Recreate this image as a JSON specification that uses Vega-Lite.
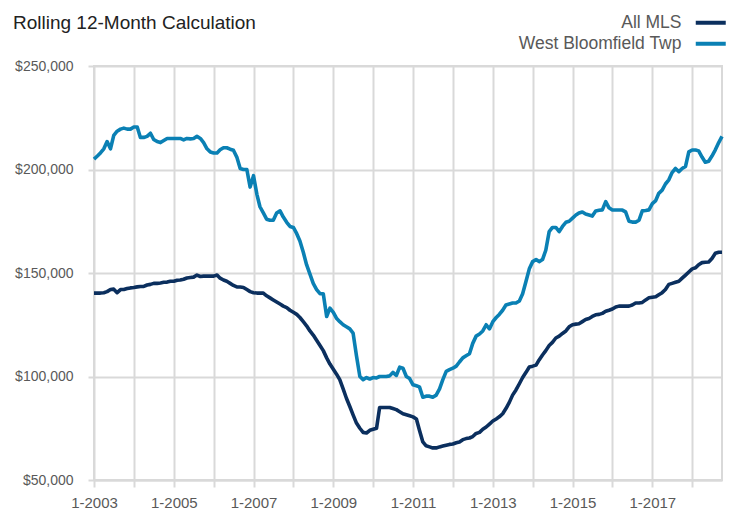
{
 "$schema": "https://vega.github.io/schema/vega-lite/v6.json",
 "width": 628, "height": 414,
 "autosize": "none",
 "padding": {"left": 94, "top": 66, "right": 7, "bottom": 35},
 "background": "white",
 "config": {"font": "Liberation Sans", "view": {"stroke": "#d9d9d9", "strokeWidth": 2}},
 "title": {"text": "Rolling 12-Month Calculation", "anchor": "start", "frame": "group", "dx": -81, "offset": 0, "dy": 19, "fontSize": 19, "fontWeight": "normal", "color": "#222222", "font": "Liberation Sans"},
 "data": {"values": [
{"month":"2003-01-01","All MLS":140300,"West Bloomfield Twp":205000},
{"month":"2003-02-01","All MLS":140300,"West Bloomfield Twp":206500},
{"month":"2003-03-01","All MLS":140300,"West Bloomfield Twp":208000},
{"month":"2003-04-01","All MLS":140500,"West Bloomfield Twp":210000},
{"month":"2003-05-01","All MLS":141000,"West Bloomfield Twp":213500},
{"month":"2003-06-01","All MLS":142000,"West Bloomfield Twp":210000},
{"month":"2003-07-01","All MLS":142200,"West Bloomfield Twp":216500},
{"month":"2003-08-01","All MLS":140500,"West Bloomfield Twp":218500},
{"month":"2003-09-01","All MLS":142000,"West Bloomfield Twp":219500},
{"month":"2003-10-01","All MLS":142000,"West Bloomfield Twp":220000},
{"month":"2003-11-01","All MLS":142500,"West Bloomfield Twp":219500},
{"month":"2003-12-01","All MLS":142800,"West Bloomfield Twp":219500},
{"month":"2004-01-01","All MLS":143000,"West Bloomfield Twp":220500},
{"month":"2004-02-01","All MLS":143300,"West Bloomfield Twp":220500},
{"month":"2004-03-01","All MLS":143500,"West Bloomfield Twp":215500},
{"month":"2004-04-01","All MLS":143500,"West Bloomfield Twp":215500},
{"month":"2004-05-01","All MLS":144200,"West Bloomfield Twp":216000},
{"month":"2004-06-01","All MLS":144500,"West Bloomfield Twp":217500},
{"month":"2004-07-01","All MLS":145000,"West Bloomfield Twp":214500},
{"month":"2004-08-01","All MLS":145000,"West Bloomfield Twp":213500},
{"month":"2004-09-01","All MLS":145200,"West Bloomfield Twp":213000},
{"month":"2004-10-01","All MLS":145500,"West Bloomfield Twp":214000},
{"month":"2004-11-01","All MLS":145600,"West Bloomfield Twp":215000},
{"month":"2004-12-01","All MLS":146000,"West Bloomfield Twp":215000},
{"month":"2005-01-01","All MLS":146000,"West Bloomfield Twp":215000},
{"month":"2005-02-01","All MLS":146500,"West Bloomfield Twp":215000},
{"month":"2005-03-01","All MLS":146600,"West Bloomfield Twp":215000},
{"month":"2005-04-01","All MLS":147000,"West Bloomfield Twp":214300},
{"month":"2005-05-01","All MLS":147600,"West Bloomfield Twp":215000},
{"month":"2005-06-01","All MLS":147800,"West Bloomfield Twp":214800},
{"month":"2005-07-01","All MLS":148000,"West Bloomfield Twp":215000},
{"month":"2005-08-01","All MLS":149000,"West Bloomfield Twp":216000},
{"month":"2005-09-01","All MLS":148300,"West Bloomfield Twp":215000},
{"month":"2005-10-01","All MLS":148500,"West Bloomfield Twp":213000},
{"month":"2005-11-01","All MLS":148500,"West Bloomfield Twp":210000},
{"month":"2005-12-01","All MLS":148500,"West Bloomfield Twp":208500},
{"month":"2006-01-01","All MLS":148500,"West Bloomfield Twp":208000},
{"month":"2006-02-01","All MLS":149000,"West Bloomfield Twp":208000},
{"month":"2006-03-01","All MLS":147500,"West Bloomfield Twp":209500},
{"month":"2006-04-01","All MLS":146600,"West Bloomfield Twp":210500},
{"month":"2006-05-01","All MLS":146000,"West Bloomfield Twp":210500},
{"month":"2006-06-01","All MLS":145000,"West Bloomfield Twp":209800},
{"month":"2006-07-01","All MLS":144000,"West Bloomfield Twp":209300},
{"month":"2006-08-01","All MLS":143300,"West Bloomfield Twp":206000},
{"month":"2006-09-01","All MLS":143200,"West Bloomfield Twp":200500},
{"month":"2006-10-01","All MLS":143000,"West Bloomfield Twp":200000},
{"month":"2006-11-01","All MLS":142000,"West Bloomfield Twp":200000},
{"month":"2006-12-01","All MLS":141000,"West Bloomfield Twp":191500},
{"month":"2007-01-01","All MLS":140500,"West Bloomfield Twp":197000},
{"month":"2007-02-01","All MLS":140300,"West Bloomfield Twp":188000},
{"month":"2007-03-01","All MLS":140300,"West Bloomfield Twp":182000},
{"month":"2007-04-01","All MLS":140300,"West Bloomfield Twp":179000},
{"month":"2007-05-01","All MLS":139000,"West Bloomfield Twp":176000},
{"month":"2007-06-01","All MLS":138000,"West Bloomfield Twp":175500},
{"month":"2007-07-01","All MLS":137000,"West Bloomfield Twp":175500},
{"month":"2007-08-01","All MLS":136000,"West Bloomfield Twp":179000},
{"month":"2007-09-01","All MLS":135000,"West Bloomfield Twp":180000},
{"month":"2007-10-01","All MLS":134000,"West Bloomfield Twp":177000},
{"month":"2007-11-01","All MLS":133300,"West Bloomfield Twp":174500},
{"month":"2007-12-01","All MLS":132000,"West Bloomfield Twp":172500},
{"month":"2008-01-01","All MLS":131000,"West Bloomfield Twp":172000},
{"month":"2008-02-01","All MLS":130000,"West Bloomfield Twp":169000},
{"month":"2008-03-01","All MLS":128500,"West Bloomfield Twp":165500},
{"month":"2008-04-01","All MLS":126500,"West Bloomfield Twp":160000},
{"month":"2008-05-01","All MLS":124500,"West Bloomfield Twp":154000},
{"month":"2008-06-01","All MLS":122000,"West Bloomfield Twp":149500},
{"month":"2008-07-01","All MLS":120000,"West Bloomfield Twp":145000},
{"month":"2008-08-01","All MLS":117500,"West Bloomfield Twp":142000},
{"month":"2008-09-01","All MLS":115000,"West Bloomfield Twp":140000},
{"month":"2008-10-01","All MLS":112500,"West Bloomfield Twp":140000},
{"month":"2008-11-01","All MLS":109000,"West Bloomfield Twp":129000},
{"month":"2008-12-01","All MLS":106000,"West Bloomfield Twp":133000},
{"month":"2009-01-01","All MLS":103500,"West Bloomfield Twp":131000},
{"month":"2009-02-01","All MLS":101000,"West Bloomfield Twp":128000},
{"month":"2009-03-01","All MLS":98500,"West Bloomfield Twp":126500},
{"month":"2009-04-01","All MLS":94000,"West Bloomfield Twp":125000},
{"month":"2009-05-01","All MLS":89500,"West Bloomfield Twp":124000},
{"month":"2009-06-01","All MLS":85500,"West Bloomfield Twp":123000},
{"month":"2009-07-01","All MLS":81500,"West Bloomfield Twp":121000},
{"month":"2009-08-01","All MLS":77500,"West Bloomfield Twp":110000},
{"month":"2009-09-01","All MLS":75000,"West Bloomfield Twp":100000},
{"month":"2009-10-01","All MLS":73000,"West Bloomfield Twp":98500},
{"month":"2009-11-01","All MLS":72700,"West Bloomfield Twp":99500},
{"month":"2009-12-01","All MLS":74000,"West Bloomfield Twp":98800},
{"month":"2010-01-01","All MLS":74500,"West Bloomfield Twp":99500},
{"month":"2010-02-01","All MLS":75000,"West Bloomfield Twp":99300},
{"month":"2010-03-01","All MLS":85000,"West Bloomfield Twp":100000},
{"month":"2010-04-01","All MLS":85000,"West Bloomfield Twp":100000},
{"month":"2010-05-01","All MLS":85000,"West Bloomfield Twp":100000},
{"month":"2010-06-01","All MLS":85000,"West Bloomfield Twp":100300},
{"month":"2010-07-01","All MLS":84500,"West Bloomfield Twp":102000},
{"month":"2010-08-01","All MLS":84000,"West Bloomfield Twp":100500},
{"month":"2010-09-01","All MLS":83000,"West Bloomfield Twp":104500},
{"month":"2010-10-01","All MLS":82000,"West Bloomfield Twp":104000},
{"month":"2010-11-01","All MLS":81500,"West Bloomfield Twp":100000},
{"month":"2010-12-01","All MLS":81000,"West Bloomfield Twp":99000},
{"month":"2011-01-01","All MLS":80500,"West Bloomfield Twp":96000},
{"month":"2011-02-01","All MLS":79500,"West Bloomfield Twp":95500},
{"month":"2011-03-01","All MLS":74000,"West Bloomfield Twp":95000},
{"month":"2011-04-01","All MLS":68400,"West Bloomfield Twp":90000},
{"month":"2011-05-01","All MLS":66500,"West Bloomfield Twp":90500},
{"month":"2011-06-01","All MLS":66000,"West Bloomfield Twp":90500},
{"month":"2011-07-01","All MLS":65500,"West Bloomfield Twp":90000},
{"month":"2011-08-01","All MLS":65500,"West Bloomfield Twp":91000},
{"month":"2011-09-01","All MLS":66000,"West Bloomfield Twp":94000},
{"month":"2011-10-01","All MLS":66400,"West Bloomfield Twp":98500},
{"month":"2011-11-01","All MLS":66800,"West Bloomfield Twp":102500},
{"month":"2011-12-01","All MLS":67200,"West Bloomfield Twp":103300},
{"month":"2012-01-01","All MLS":67400,"West Bloomfield Twp":104000},
{"month":"2012-02-01","All MLS":68000,"West Bloomfield Twp":105000},
{"month":"2012-03-01","All MLS":68400,"West Bloomfield Twp":107000},
{"month":"2012-04-01","All MLS":69500,"West Bloomfield Twp":109000},
{"month":"2012-05-01","All MLS":70000,"West Bloomfield Twp":110000},
{"month":"2012-06-01","All MLS":70300,"West Bloomfield Twp":111000},
{"month":"2012-07-01","All MLS":71000,"West Bloomfield Twp":116000},
{"month":"2012-08-01","All MLS":72500,"West Bloomfield Twp":119500},
{"month":"2012-09-01","All MLS":73000,"West Bloomfield Twp":120500},
{"month":"2012-10-01","All MLS":74500,"West Bloomfield Twp":122000},
{"month":"2012-11-01","All MLS":75600,"West Bloomfield Twp":125000},
{"month":"2012-12-01","All MLS":77000,"West Bloomfield Twp":123000},
{"month":"2013-01-01","All MLS":78500,"West Bloomfield Twp":126500},
{"month":"2013-02-01","All MLS":79500,"West Bloomfield Twp":128500},
{"month":"2013-03-01","All MLS":80500,"West Bloomfield Twp":130000},
{"month":"2013-04-01","All MLS":82000,"West Bloomfield Twp":132000},
{"month":"2013-05-01","All MLS":84500,"West Bloomfield Twp":134500},
{"month":"2013-06-01","All MLS":87500,"West Bloomfield Twp":135000},
{"month":"2013-07-01","All MLS":91000,"West Bloomfield Twp":135500},
{"month":"2013-08-01","All MLS":93500,"West Bloomfield Twp":135500},
{"month":"2013-09-01","All MLS":96500,"West Bloomfield Twp":136500},
{"month":"2013-10-01","All MLS":99500,"West Bloomfield Twp":140000},
{"month":"2013-11-01","All MLS":102000,"West Bloomfield Twp":146000},
{"month":"2013-12-01","All MLS":104600,"West Bloomfield Twp":152000},
{"month":"2014-01-01","All MLS":105000,"West Bloomfield Twp":155500},
{"month":"2014-02-01","All MLS":105500,"West Bloomfield Twp":156500},
{"month":"2014-03-01","All MLS":108000,"West Bloomfield Twp":155500},
{"month":"2014-04-01","All MLS":110400,"West Bloomfield Twp":156500},
{"month":"2014-05-01","All MLS":112500,"West Bloomfield Twp":161000},
{"month":"2014-06-01","All MLS":115000,"West Bloomfield Twp":170000},
{"month":"2014-07-01","All MLS":116500,"West Bloomfield Twp":172000},
{"month":"2014-08-01","All MLS":118600,"West Bloomfield Twp":172000},
{"month":"2014-09-01","All MLS":119500,"West Bloomfield Twp":170000},
{"month":"2014-10-01","All MLS":120800,"West Bloomfield Twp":172500},
{"month":"2014-11-01","All MLS":122000,"West Bloomfield Twp":174500},
{"month":"2014-12-01","All MLS":124000,"West Bloomfield Twp":175000},
{"month":"2015-01-01","All MLS":125000,"West Bloomfield Twp":176500},
{"month":"2015-02-01","All MLS":125300,"West Bloomfield Twp":178000},
{"month":"2015-03-01","All MLS":125500,"West Bloomfield Twp":179000},
{"month":"2015-04-01","All MLS":126500,"West Bloomfield Twp":179500},
{"month":"2015-05-01","All MLS":127500,"West Bloomfield Twp":178500},
{"month":"2015-06-01","All MLS":128000,"West Bloomfield Twp":178000},
{"month":"2015-07-01","All MLS":129000,"West Bloomfield Twp":177500},
{"month":"2015-08-01","All MLS":129800,"West Bloomfield Twp":180000},
{"month":"2015-09-01","All MLS":130000,"West Bloomfield Twp":180300},
{"month":"2015-10-01","All MLS":130500,"West Bloomfield Twp":180500},
{"month":"2015-11-01","All MLS":131500,"West Bloomfield Twp":184500},
{"month":"2015-12-01","All MLS":132000,"West Bloomfield Twp":181500},
{"month":"2016-01-01","All MLS":132600,"West Bloomfield Twp":180400},
{"month":"2016-02-01","All MLS":133600,"West Bloomfield Twp":180400},
{"month":"2016-03-01","All MLS":134000,"West Bloomfield Twp":180400},
{"month":"2016-04-01","All MLS":134000,"West Bloomfield Twp":180400},
{"month":"2016-05-01","All MLS":134000,"West Bloomfield Twp":179500},
{"month":"2016-06-01","All MLS":134000,"West Bloomfield Twp":175000},
{"month":"2016-07-01","All MLS":134500,"West Bloomfield Twp":174600},
{"month":"2016-08-01","All MLS":135500,"West Bloomfield Twp":174600},
{"month":"2016-09-01","All MLS":135500,"West Bloomfield Twp":175500},
{"month":"2016-10-01","All MLS":135800,"West Bloomfield Twp":180000},
{"month":"2016-11-01","All MLS":137000,"West Bloomfield Twp":180200},
{"month":"2016-12-01","All MLS":138000,"West Bloomfield Twp":180500},
{"month":"2017-01-01","All MLS":138300,"West Bloomfield Twp":183500},
{"month":"2017-02-01","All MLS":138500,"West Bloomfield Twp":185000},
{"month":"2017-03-01","All MLS":139500,"West Bloomfield Twp":188500},
{"month":"2017-04-01","All MLS":140500,"West Bloomfield Twp":190000},
{"month":"2017-05-01","All MLS":142000,"West Bloomfield Twp":193000},
{"month":"2017-06-01","All MLS":144500,"West Bloomfield Twp":195000},
{"month":"2017-07-01","All MLS":145000,"West Bloomfield Twp":198500},
{"month":"2017-08-01","All MLS":145500,"West Bloomfield Twp":200500},
{"month":"2017-09-01","All MLS":146000,"West Bloomfield Twp":199000},
{"month":"2017-10-01","All MLS":147500,"West Bloomfield Twp":200500},
{"month":"2017-11-01","All MLS":149000,"West Bloomfield Twp":201500},
{"month":"2017-12-01","All MLS":150500,"West Bloomfield Twp":208500},
{"month":"2018-01-01","All MLS":152000,"West Bloomfield Twp":209400},
{"month":"2018-02-01","All MLS":152500,"West Bloomfield Twp":209400},
{"month":"2018-03-01","All MLS":154000,"West Bloomfield Twp":209000},
{"month":"2018-04-01","All MLS":155000,"West Bloomfield Twp":206000},
{"month":"2018-05-01","All MLS":155200,"West Bloomfield Twp":203500},
{"month":"2018-06-01","All MLS":155300,"West Bloomfield Twp":204000},
{"month":"2018-07-01","All MLS":157000,"West Bloomfield Twp":206500},
{"month":"2018-08-01","All MLS":159500,"West Bloomfield Twp":209500},
{"month":"2018-09-01","All MLS":160000,"West Bloomfield Twp":213000},
{"month":"2018-10-01","All MLS":160000,"West Bloomfield Twp":216000}
 ]},
 "transform": [{"fold": ["All MLS", "West Bloomfield Twp"], "as": ["series", "price"]}],
 "mark": {"type": "line", "strokeWidth": 3.6, "strokeJoin": "round"},
 "encoding": {
  "x": {"field": "month", "type": "temporal",
   "scale": {"type": "utc", "domain": [{"year": 2003, "month": 1, "date": 1, "utc": true}, {"year": 2018, "month": 10, "date": 1, "utc": true}]},
   "axis": {"title": null,
    "values": [{"year":2003,"month":1,"date":1,"utc":true},{"year":2004,"month":1,"date":1,"utc":true},{"year":2005,"month":1,"date":1,"utc":true},{"year":2006,"month":1,"date":1,"utc":true},{"year":2007,"month":1,"date":1,"utc":true},{"year":2008,"month":1,"date":1,"utc":true},{"year":2009,"month":1,"date":1,"utc":true},{"year":2010,"month":1,"date":1,"utc":true},{"year":2011,"month":1,"date":1,"utc":true},{"year":2012,"month":1,"date":1,"utc":true},{"year":2013,"month":1,"date":1,"utc":true},{"year":2014,"month":1,"date":1,"utc":true},{"year":2015,"month":1,"date":1,"utc":true},{"year":2016,"month":1,"date":1,"utc":true},{"year":2017,"month":1,"date":1,"utc":true},{"year":2018,"month":1,"date":1,"utc":true}],
    "format": "%-m-%Y",
    "labelExpr": "utcyear(datum.value) % 2 == 1 ? datum.label : ''",
    "grid": true, "gridColor": "#d9d9d9", "gridWidth": 2,
    "tickColor": "#d9d9d9", "tickWidth": 2, "tickSize": 7,
    "domainColor": "#d9d9d9", "domainWidth": 2,
    "labelFontSize": 15, "labelColor": "#595959", "labelPadding": 8,
    "labelFlush": false, "labelOverlap": false}},
  "y": {"field": "price", "type": "quantitative",
   "scale": {"domain": [50000, 250000], "nice": false, "zero": false},
   "axis": {"title": null, "values": [50000, 100000, 150000, 200000, 250000], "format": "$,.0f",
    "grid": true, "gridColor": "#d9d9d9", "gridWidth": 2, "domain": false,
    "tickColor": "#d9d9d9", "tickWidth": 2, "tickSize": 6,
    "labelFontSize": 14, "labelColor": "#595959", "labelPadding": 15}},
  "color": {"field": "series", "type": "nominal",
   "scale": {"domain": ["All MLS", "West Bloomfield Twp"], "range": ["#0b2f5e", "#0a80b4"]},
   "legend": {"title": null, "orient": "none", "legendX": 608, "legendY": -52,
    "symbolType": "M-3,0H3", "symbolSize": 100, "symbolStrokeWidth": 4,
    "labelAlign": "right", "labelOffset": -38, "labelFontSize": 17.5, "labelColor": "#595959",
    "rowPadding": 2, "padding": 0, "labelLimit": 300}}
 }
}
